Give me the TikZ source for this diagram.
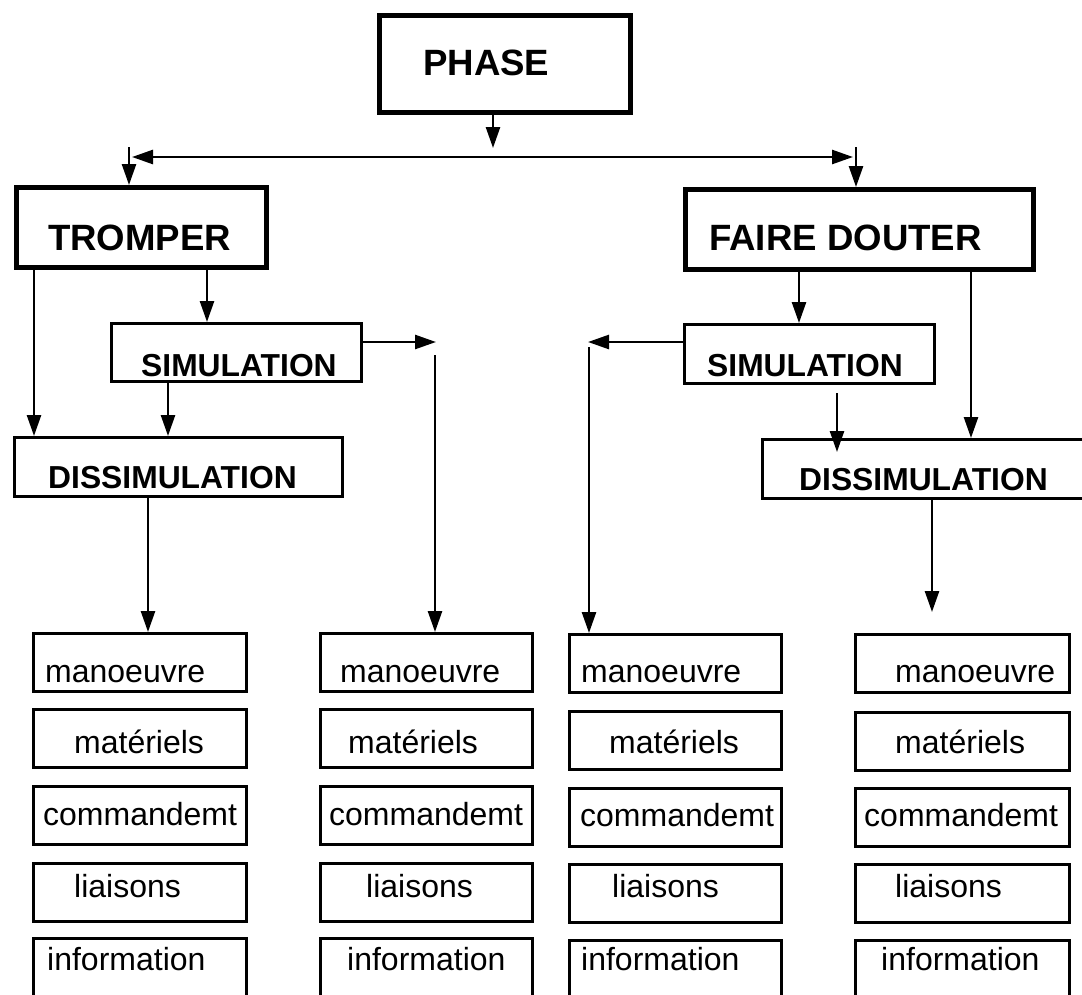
\documentclass[tikz,border=0pt]{standalone}
\usepackage{fontspec}
\setmainfont{Liberation Sans}
\usetikzlibrary{arrows.meta,calc}
\tikzset{
  tip/.tip={Triangle[length=21pt,width=14pt]},
  arr/.style={line width=2.6pt,-tip},
  bigbox/.style={draw,line width=5pt,inner sep=0pt,anchor=north west},
  midbox/.style={draw,line width=3pt,inner sep=0pt,anchor=north west},
  lowbox/.style={draw,line width=2.8pt,inner sep=0pt,anchor=north west},
  bigtxt/.style={anchor=base west,inner sep=0pt,font=\bfseries\fontsize{36.6}{40}\selectfont},
  midtxt/.style={anchor=base west,inner sep=0pt,font=\bfseries\fontsize{31.8}{36}\selectfont},
  lowtxt/.style={anchor=base west,inner sep=0pt,font=\fontsize{32}{38}\selectfont}
}
\newcommand\lowbox[8]{%
  \node[lowbox,minimum width=#4pt,minimum height=#5pt] (#1) at (#2,#3) {};
  \node[lowtxt] (#1t) at (#6,#7) {#8};}
\begin{document}
\begin{tikzpicture}[x=1pt,y=-1pt]
\useasboundingbox (0,0) rectangle (1082,994);
\clip (0,0) rectangle (1082,994);
\fill[white] (0,0) rectangle (1082,994);

% top level
\node[bigbox,minimum width=251pt,minimum height=97pt] (phase) at (377,13) {};
\node[bigtxt] (phaset) at (423,75) {PHASE};

\node[bigbox,minimum width=250pt,minimum height=80pt] (tromper) at (14,185) {};
\node[bigtxt] (trompert) at (48,250) {TROMPER};

\node[bigbox,minimum width=348pt,minimum height=80pt] (faire) at (683,187) {};
\node[bigtxt] (fairet) at (709,250) {FAIRE DOUTER};

\node[midbox,minimum width=250pt,minimum height=58pt] (simL) at (110,322) {};
\node[midtxt] (simLt) at (141,376) {SIMULATION};

\node[midbox,minimum width=328pt,minimum height=59pt] (dissL) at (13,436) {};
\node[midtxt] (dissLt) at (48,488) {DISSIMULATION};

\node[midbox,minimum width=250pt,minimum height=59pt] (simR) at (683,323) {};
\node[midtxt] (simRt) at (707,376) {SIMULATION};

\node[midbox,minimum width=360pt,minimum height=59pt] (dissR) at (761,438) {};
\node[midtxt] (dissRt) at (799,490) {DISSIMULATION};

% bottom columns
\lowbox{a1}{32}{632}{213}{58}{45}{682}{manoeuvre}
\lowbox{a2}{32}{708}{213}{58}{74}{753}{matériels}
\lowbox{a3}{32}{785}{213}{58}{43}{825}{commandemt}
\lowbox{a4}{32}{862}{213}{58}{74}{897}{liaisons}
\lowbox{a5}{32}{937}{213}{90}{47}{970}{information}

\lowbox{b1}{319}{632}{212}{58}{340}{682}{manoeuvre}
\lowbox{b2}{319}{708}{212}{58}{348}{753}{matériels}
\lowbox{b3}{319}{785}{212}{58}{329}{825}{commandemt}
\lowbox{b4}{319}{862}{212}{58}{366}{897}{liaisons}
\lowbox{b5}{319}{937}{212}{90}{347}{970}{information}

\lowbox{c1}{568}{633}{212}{58}{581}{682}{manoeuvre}
\lowbox{c2}{568}{710}{212}{58}{609}{753}{matériels}
\lowbox{c3}{568}{787}{212}{58}{580}{826}{commandemt}
\lowbox{c4}{568}{863}{212}{58}{612}{897}{liaisons}
\lowbox{c5}{568}{939}{212}{90}{581}{970}{information}

\lowbox{d1}{854}{633}{214}{58}{895}{682}{manoeuvre}
\lowbox{d2}{854}{711}{214}{58}{895}{753}{matériels}
\lowbox{d3}{854}{787}{214}{58}{864}{826}{commandemt}
\lowbox{d4}{854}{863}{214}{58}{895}{897}{liaisons}
\lowbox{d5}{854}{939}{214}{90}{881}{970}{information}

% connectors
\coordinate (pj) at (493,148);
\draw[arr] (phase.south -| pj) -- (pj);
\coordinate (hl) at (132,157);
\coordinate (hr) at (853,157);
\draw[line width=2.6pt,tip-tip] (hl) -- (hr);
\coordinate (tl) at (129,147);
\draw[arr] (tl) -- (tl |- tromper.north);
\coordinate (tr) at (856,147);
\draw[arr] (tr) -- (tr |- faire.north);

\draw[arr] ([xshift=20pt]tromper.south west) -- ([xshift=21pt]dissL.north west);
\draw[arr] ([xshift=193pt]tromper.south west) -- ([xshift=97pt]simL.north west);
\draw[arr] ([xshift=58pt]simL.south west) -- ([xshift=155pt]dissL.north west);
\coordinate (cL) at (436,342);
\draw[arr] ([yshift=-20pt]simL.north east) -- (cL);
\coordinate (vL) at (435,355);
\draw[arr] (vL) -- (vL |- b1.north);
\draw[arr] ([xshift=135pt]dissL.south west) -- ([xshift=116pt]a1.north west);

\draw[arr] ([xshift=116pt]faire.south west) -- ([xshift=116pt]simR.north west);
\draw[arr] ([xshift=288pt]faire.south west) -- ([xshift=210pt]dissR.north west);
\coordinate (cR) at (588,342);
\draw[arr] ([yshift=-19pt]simR.north west) -- (cR);
\coordinate (vR) at (589,347);
\draw[arr] (vR) -- (vR |- c1.north);
\coordinate (sR) at (837,393);
\draw[arr] (sR) -- ([xshift=76pt,yshift=-14pt]dissR.north west);
\coordinate (dR) at (932,612);
\draw[arr] ([xshift=171pt]dissR.south west) -- (dR);
\end{tikzpicture}
\end{document}
